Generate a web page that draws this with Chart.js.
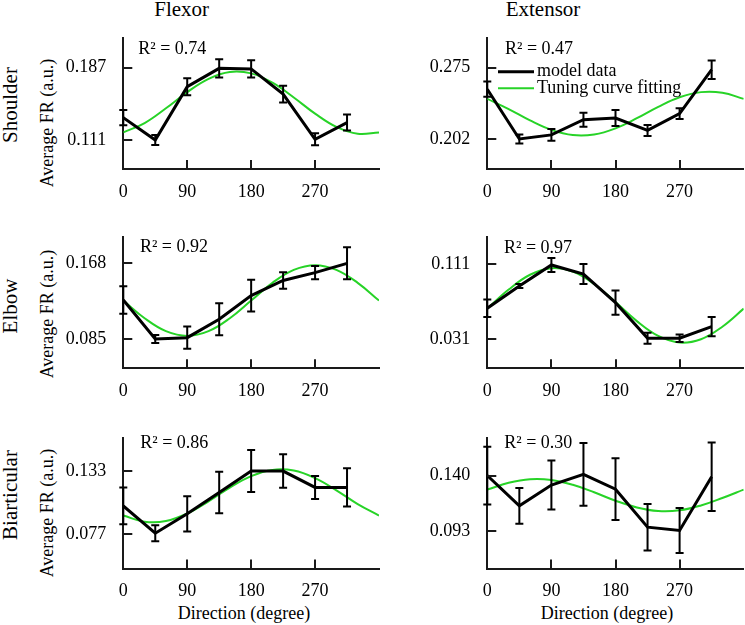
<!DOCTYPE html>
<html><head><meta charset="utf-8">
<script src="https://cdn.jsdelivr.net/npm/chart.js@4.4.1/dist/chart.umd.min.js"></script>
<style>
html,body{margin:0;padding:0;background:#fff;}
body{width:745px;height:625px;position:relative;overflow:hidden;font-family:"Liberation Serif","Times New Roman",serif;color:#000;}
canvas{position:absolute;}
.t{position:absolute;white-space:nowrap;line-height:1;}
.col{font-size:21px;transform:translateX(-50%);}
.row{font-size:21px;transform:translate(-50%,-50%) rotate(-90deg);}
.yt{font-size:18px;transform:translate(-50%,-50%) rotate(-90deg);}
.xt{font-size:18px;transform:translateX(-50%);}
</style></head><body>
<div class="t col" style="left:181.7px;top:-1px">Flexor</div>
<div class="t col" style="left:543px;top:-1px">Extensor</div>
<div class="t row" style="left:10px;top:105px">Shoulder</div>
<div class="t row" style="left:9.5px;top:306px">Elbow</div>
<div class="t row" style="left:10px;top:495px">Biarticular</div>
<div class="t yt" style="left:47px;top:123.3px">Average FR (a.u.)</div>
<div class="t yt" style="left:47px;top:314.2px">Average FR (a.u.)</div>
<div class="t yt" style="left:47px;top:512.5px">Average FR (a.u.)</div>
<div class="t xt" style="left:244px;top:604px">Direction (degree)</div>
<div class="t xt" style="left:607px;top:604px">Direction (degree)</div>
<canvas id="c1" width="329" height="181" style="left:56px;top:28px"></canvas>
<canvas id="c2" width="325" height="181" style="left:420px;top:28px"></canvas>
<canvas id="c3" width="329" height="182" style="left:56px;top:226px"></canvas>
<canvas id="c4" width="325" height="182" style="left:420px;top:226px"></canvas>
<canvas id="c5" width="329" height="182" style="left:56px;top:427px"></canvas>
<canvas id="c6" width="325" height="182" style="left:420px;top:427px"></canvas>
<script>
// ---------------- data ----------------
const directions = [0,45,90,135,180,225,270,315];
const fitAngles = [0,30,60,90,120,150,180,210,240,270,300,330,360];
const xTickValues = [0,90,180,270];

const shoulderFlexorMean = [0.1345,0.1110,0.1670,0.1863,0.1857,0.1592,0.1117,0.1293];
const shoulderFlexorErr  = [0.0079,0.0053,0.0089,0.0095,0.0091,0.0087,0.0063,0.0084];
const shoulderFlexorFit  = [0.1190,0.1288,0.1443,0.1613,0.1753,0.1825,0.1810,0.1712,0.1557,0.1387,0.1247,0.1175,0.1190];
const shoulderFlexorTicks = [0.111,0.187];
const shoulderFlexorRange = [0.0805,0.2179];

const shoulderExtensorMean = [0.2530,0.2020,0.2062,0.2218,0.2235,0.2108,0.2280,0.2730];
const shoulderExtensorErr  = [0.0078,0.0046,0.0061,0.0072,0.0082,0.0056,0.0056,0.0095];
const shoulderExtensorFit  = [0.2431,0.2327,0.2210,0.2113,0.2060,0.2066,0.2129,0.2233,0.2350,0.2447,0.2500,0.2494,0.2431];
const shoulderExtensorTicks = [0.202,0.275];
const shoulderExtensorRange = [0.1713,0.3051];

const elbowFlexorMean = [0.1278,0.0850,0.0865,0.1066,0.1326,0.1492,0.1578,0.1680];
const elbowFlexorErr  = [0.0151,0.0044,0.0121,0.0175,0.0175,0.0091,0.0073,0.0175];
const elbowFlexorFit  = [0.1272,0.1078,0.0936,0.0884,0.0936,0.1078,0.1272,0.1466,0.1608,0.1660,0.1608,0.1466,0.1272];
const elbowFlexorTicks = [0.085,0.168];
const elbowFlexorRange = [0.0529,0.1972];

const elbowExtensorMean = [0.0639,0.0878,0.1103,0.1006,0.0699,0.0317,0.0317,0.0442];
const elbowExtensorErr  = [0.0093,0.0021,0.0075,0.0107,0.0129,0.0059,0.0040,0.0104];
const elbowExtensorFit  = [0.0635,0.0839,0.0998,0.1068,0.1033,0.0899,0.0705,0.0501,0.0342,0.0271,0.0307,0.0441,0.0635];
const elbowExtensorTicks = [0.031,0.111];
const elbowExtensorRange = [-0.0005,0.1406];

const biarticularFlexorMean = [0.1020,0.0778,0.0950,0.1140,0.1330,0.1330,0.1185,0.1185];
const biarticularFlexorErr  = [0.0163,0.0071,0.0156,0.0184,0.0187,0.0148,0.0102,0.0169];
const biarticularFlexorFit  = [0.0935,0.0880,0.0886,0.0953,0.1061,0.1183,0.1285,0.1340,0.1334,0.1267,0.1159,0.1037,0.0935];
const biarticularFlexorTicks = [0.077,0.133];
const biarticularFlexorRange = [0.0465,0.1626];

const biarticularExtensorMean = [0.1400,0.1145,0.1320,0.1410,0.1285,0.0965,0.0937,0.1390];
const biarticularExtensorErr  = [0.0243,0.0151,0.0206,0.0264,0.0260,0.0196,0.0189,0.0288];
const biarticularExtensorFit  = [0.1282,0.1339,0.1369,0.1363,0.1322,0.1259,0.1188,0.1131,0.1101,0.1107,0.1148,0.1211,0.1282];
const biarticularExtensorTicks = [0.093,0.140];
const biarticularExtensorRange = [0.0617,0.1719];

const r2Values = ['0.74','0.47','0.92','0.97','0.86','0.30'];
const legendLabels = ['model data','Tuning curve fitting'];

// ---------------- layout / style ----------------
const FONT = "'Liberation Serif', 'Times New Roman', serif";
const GREEN = '#27d327';
const AXIS = '#1a1a1a';

const panels = [
  {id:'c1', mean:shoulderFlexorMean, err:shoulderFlexorErr, fit:shoulderFlexorFit, ticks:shoulderFlexorTicks, range:shoulderFlexorRange, r2:r2Values[0], padTop:10.3, padRight:6, yW:67.3, xH:40, r2dx:15, r2dy:16, legend:false},
  {id:'c2', mean:shoulderExtensorMean, err:shoulderExtensorErr, fit:shoulderExtensorFit, ticks:shoulderExtensorTicks, range:shoulderExtensorRange, r2:r2Values[1], padTop:10.3, padRight:1.3, yW:67.3, xH:40, r2dx:17.7, r2dy:16, legend:true},
  {id:'c3', mean:elbowFlexorMean, err:elbowFlexorErr, fit:elbowFlexorFit, ticks:elbowFlexorTicks, range:elbowFlexorRange, r2:r2Values[2], padTop:10.7, padRight:6, yW:67.3, xH:39.7, r2dx:16.6, r2dy:15.6, legend:false},
  {id:'c4', mean:elbowExtensorMean, err:elbowExtensorErr, fit:elbowExtensorFit, ticks:elbowExtensorTicks, range:elbowExtensorRange, r2:r2Values[3], padTop:10.7, padRight:1.3, yW:67.3, xH:39.7, r2dx:16.7, r2dy:16.6, legend:false},
  {id:'c5', mean:biarticularFlexorMean, err:biarticularFlexorErr, fit:biarticularFlexorFit, ticks:biarticularFlexorTicks, range:biarticularFlexorRange, r2:r2Values[4], padTop:10.7, padRight:6, yW:67.3, xH:40.5, r2dx:17, r2dy:10, legend:false},
  {id:'c6', mean:biarticularExtensorMean, err:biarticularExtensorErr, fit:biarticularExtensorFit, ticks:biarticularExtensorTicks, range:biarticularExtensorRange, r2:r2Values[5], padTop:10.7, padRight:1.3, yW:67.3, xH:40.5, r2dx:17, r2dy:10, legend:false}
];

function decorPlugin(p){
  return {
    id:'decor_'+p.id,
    afterDatasetsDraw(chart){
      const ctx = chart.ctx, ca = chart.chartArea, x = chart.scales.x, y = chart.scales.y;
      ctx.save();
      // error bars
      ctx.strokeStyle = '#000'; ctx.lineWidth = 2; ctx.lineCap = 'butt';
      p.mean.forEach((m,i)=>{
        const px = x.getPixelForValue(directions[i]);
        const y1 = y.getPixelForValue(m - p.err[i]);
        const y2 = y.getPixelForValue(m + p.err[i]);
        ctx.beginPath();
        ctx.moveTo(px,y1); ctx.lineTo(px,y2);
        ctx.moveTo(px-4,y1); ctx.lineTo(px+4,y1);
        ctx.moveTo(px-4,y2); ctx.lineTo(px+4,y2);
        ctx.stroke();
      });
      // inward tick marks
      ctx.strokeStyle = AXIS; ctx.lineWidth = 2;
      x.ticks.forEach(t=>{
        if (t.value === 0) return;
        const px = Math.round(x.getPixelForValue(t.value));
        ctx.beginPath(); ctx.moveTo(px, ca.bottom); ctx.lineTo(px, ca.bottom-9); ctx.stroke();
      });
      y.ticks.forEach(t=>{
        const py = Math.round(y.getPixelForValue(t.value));
        ctx.beginPath(); ctx.moveTo(ca.left, py); ctx.lineTo(ca.left+9, py); ctx.stroke();
      });
      // R^2 annotation
      ctx.fillStyle = '#000';
      ctx.font = '18px ' + FONT;
      ctx.textBaseline = 'alphabetic'; ctx.textAlign = 'left';
      ctx.fillText('R\u00B2 = ' + p.r2, ca.left + p.r2dx, ca.top + p.r2dy);
      // legend
      if (p.legend){
        const lx0 = ca.left + 10.7, lx1 = ca.left + 46.7;
        const ly1 = ca.top + 33.4, ly2 = ca.top + 50;
        ctx.lineWidth = 3; ctx.strokeStyle = '#000';
        ctx.beginPath(); ctx.moveTo(lx0,ly1); ctx.lineTo(lx1,ly1); ctx.stroke();
        ctx.lineWidth = 2; ctx.strokeStyle = GREEN;
        ctx.beginPath(); ctx.moveTo(lx0,ly2); ctx.lineTo(lx1,ly2); ctx.stroke();
        ctx.textBaseline = 'middle';
        ctx.fillText(legendLabels[0], ca.left + 49.7, ly1);
        ctx.fillText(legendLabels[1], ca.left + 49.7, ly2);
      }
      ctx.restore();
    }
  };
}

panels.forEach(p=>{
  const ctx = document.getElementById(p.id).getContext('2d');
  new Chart(ctx, {
    type:'line',
    data:{
      datasets:[
        {label:legendLabels[1], data:fitAngles.map((a,i)=>({x:a,y:p.fit[i]})), borderColor:GREEN, borderWidth:2, pointRadius:0, tension:0.4, fill:false, order:2},
        {label:legendLabels[0], data:directions.map((d,i)=>({x:d,y:p.mean[i]})), borderColor:'#000', borderWidth:3, pointRadius:0, tension:0, fill:false, order:1}
      ]
    },
    options:{
      responsive:false, animation:false, devicePixelRatio:1,
      layout:{padding:{top:p.padTop, right:p.padRight, left:0, bottom:0}},
      plugins:{legend:{display:false}, tooltip:{enabled:false}},
      scales:{
        x:{type:'linear', min:0, max:360,
          afterBuildTicks:(s)=>{ s.ticks = xTickValues.map(v=>({value:v})); },
          afterFit:(s)=>{ s.height = p.xH; s.paddingLeft = 0; s.paddingRight = 0; },
          grid:{display:false, drawTicks:false},
          border:{display:true, color:AXIS, width:2},
          ticks:{color:'#000', font:{family:FONT, size:18}, padding:12, maxRotation:0, autoSkip:false, callback:(v)=>String(v)}
        },
        y:{type:'linear', min:p.range[0], max:p.range[1],
          afterBuildTicks:(s)=>{ s.ticks = p.ticks.map(v=>({value:v})); },
          afterFit:(s)=>{ s.width = p.yW; s.paddingTop = 0; s.paddingBottom = 0; },
          grid:{display:false, drawTicks:false},
          border:{display:true, color:AXIS, width:2},
          ticks:{color:'#000', font:{family:FONT, size:18}, padding:17, callback:(v)=>Number(v).toFixed(3)}
        }
      }
    },
    plugins:[decorPlugin(p)]
  });
});
</script>
</body></html>
